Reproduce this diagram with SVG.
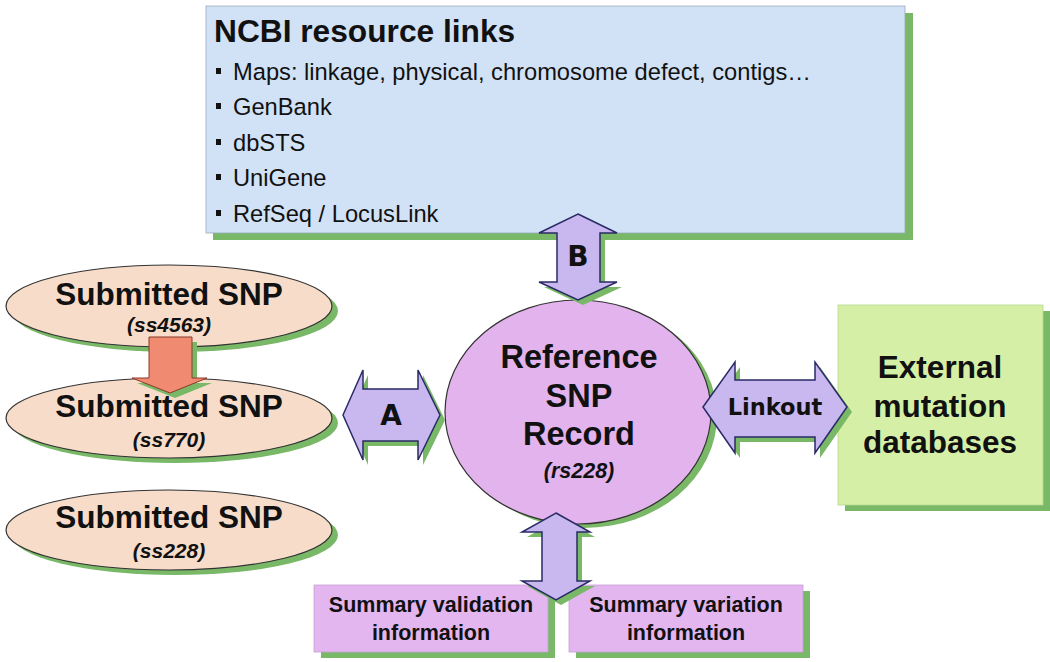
<svg xmlns="http://www.w3.org/2000/svg" width="1050" height="662" viewBox="0 0 1050 662">
<style>
text{font-family:"Liberation Sans",Arial,sans-serif;fill:#111}
.sh{fill:#78b866}
.t{font-weight:bold;text-anchor:middle}
.it{font-weight:bold;font-style:italic;text-anchor:middle;font-size:21px}
.li{font-size:23.7px}
.arr{fill:#c9b8ef;stroke:#2a2a66;stroke-width:1.5}
.bul{fill:#111}
.dj{font-family:"DejaVu Sans",sans-serif}
</style>
<rect width="1050" height="662" fill="#ffffff"/>
<g id="ncbi">
<rect class="sh" x="213" y="13" width="700" height="227"/>
<rect x="206" y="6" width="699" height="227" fill="#d2e2f6" stroke="#9aaabb" stroke-width="0.8"/>
<text x="214" y="42" font-size="31.7" font-weight="bold">NCBI resource links</text>
<rect class="bul" x="216" y="68" width="5" height="6"/>
<text class="li" x="233" y="80">Maps: linkage, physical, chromosome defect, contigs…</text>
<rect class="bul" x="216" y="103" width="5" height="6"/>
<text class="li" x="233" y="115">GenBank</text>
<rect class="bul" x="216" y="139" width="5" height="6"/>
<text class="li" x="233" y="151">dbSTS</text>
<rect class="bul" x="216" y="174" width="5" height="6"/>
<text class="li" x="233" y="186">UniGene</text>
<rect class="bul" x="216" y="210" width="5" height="6"/>
<text class="li" x="233" y="222">RefSeq / LocusLink</text>
</g>
<g id="ss4563">
<ellipse class="sh" cx="175" cy="311" rx="163" ry="41"/>
<ellipse cx="169" cy="306" rx="163" ry="41" fill="#f7dcca" stroke="#333" stroke-width="1.2"/>
<text class="t" x="169" y="305" font-size="31.5">Submitted SNP</text>
<text class="it" x="169" y="332">(ss4563)</text>
</g>
<g id="ss770">
<ellipse class="sh" cx="175" cy="423" rx="163" ry="40"/>
<ellipse cx="169" cy="418" rx="163" ry="40" fill="#f7dcca" stroke="#333" stroke-width="1.2"/>
<text class="t" x="169" y="417" font-size="31.5">Submitted SNP</text>
<text class="it" x="169" y="447">(ss770)</text>
</g>
<g id="ss228">
<ellipse class="sh" cx="175" cy="535" rx="163" ry="40"/>
<ellipse cx="169" cy="530" rx="163" ry="40" fill="#f7dcca" stroke="#333" stroke-width="1.2"/>
<text class="t" x="169" y="528" font-size="31.5">Submitted SNP</text>
<text class="it" x="169" y="558">(ss228)</text>
</g>
<g id="refsnp">
<ellipse class="sh" cx="584" cy="416" rx="133" ry="112"/>
<ellipse cx="578" cy="412" rx="133" ry="112" fill="#e2b3ec" stroke="#333" stroke-width="1.2"/>
<text class="t" x="579" y="368" font-size="32.5">Reference</text>
<text class="t" x="579" y="407" font-size="32.5">SNP</text>
<text class="t" x="579" y="445" font-size="32.5">Record</text>
<text class="it" x="579" y="478" style="font-size:21.5px">(rs228)</text>
</g>
<g id="external">
<rect class="sh" x="845" y="311" width="205" height="200"/>
<rect x="838" y="305" width="205" height="200" fill="#d5f0a6" stroke="#b8d890" stroke-width="0.8"/>
<text class="t" x="940" y="378" font-size="31.5">External</text>
<text class="t" x="940" y="417" font-size="31.5">mutation</text>
<text class="t" x="940" y="453" font-size="31.5">databases</text>
</g>
<g id="validation">
<rect class="sh" x="321" y="591" width="234" height="67"/>
<rect x="314" y="585" width="234" height="67" fill="#e3b6ef" stroke="#c9a0d6" stroke-width="0.8"/>
<text class="t" x="431" y="612" font-size="21.5">Summary validation</text>
<text class="t" x="431" y="640" font-size="21.5">information</text>
</g>
<g id="variation">
<rect class="sh" x="576" y="591" width="234" height="67"/>
<rect x="569" y="585" width="234" height="67" fill="#e3b6ef" stroke="#c9a0d6" stroke-width="0.8"/>
<text class="t" x="686" y="612" font-size="21.5">Summary variation</text>
<text class="t" x="686" y="640" font-size="21.5">information</text>
</g>
<g id="connectors">
<polygon class="sh" points="154,342 197,342 197,383 212,383 175,398 137,383 154,383"/>
<polygon points="149,337 192,337 192,378 207,378 170,393 132,378 149,378" fill="#f08a70" stroke="#8a3a2a" stroke-width="1"/>
<polygon class="sh" points="348,420 368,375 368,394 423,394 423,375 445,420 423,465 423,446 368,446 368,465"/>
<polygon class="arr" points="343,415 363,370 363,389 418,389 418,370 440,415 418,460 418,441 363,441 363,460"/>
<text class="t dj" x="391" y="425" font-size="28">A</text>
<polygon class="sh" points="708,412 740,367 740,385 820,385 820,367 852,412 820,458 820,442 740,442 740,458"/>
<polygon class="arr" points="703,407 735,362 735,380 815,380 815,362 847,407 815,453 815,437 735,437 735,453"/>
<text class="t dj" x="775" y="415" font-size="22.5">Linkout</text>
<polygon class="sh" points="583,219 622,238 605,238 605,287 622,287 583,305 544,287 562,287 562,238 544,238"/>
<polygon class="arr" points="578,214 617,233 600,233 600,282 617,282 578,300 539,282 557,282 557,233 539,233"/>
<text class="t dj" x="578" y="266" font-size="28">B</text>
<polygon class="sh" points="561,518 595,537 582,537 582,586 595,586 561,605 527,586 547,586 547,537 527,537"/>
<polygon class="arr" points="556,513 590,532 577,532 577,581 590,581 556,600 522,581 542,581 542,532 522,532"/>
</g>
</svg>
